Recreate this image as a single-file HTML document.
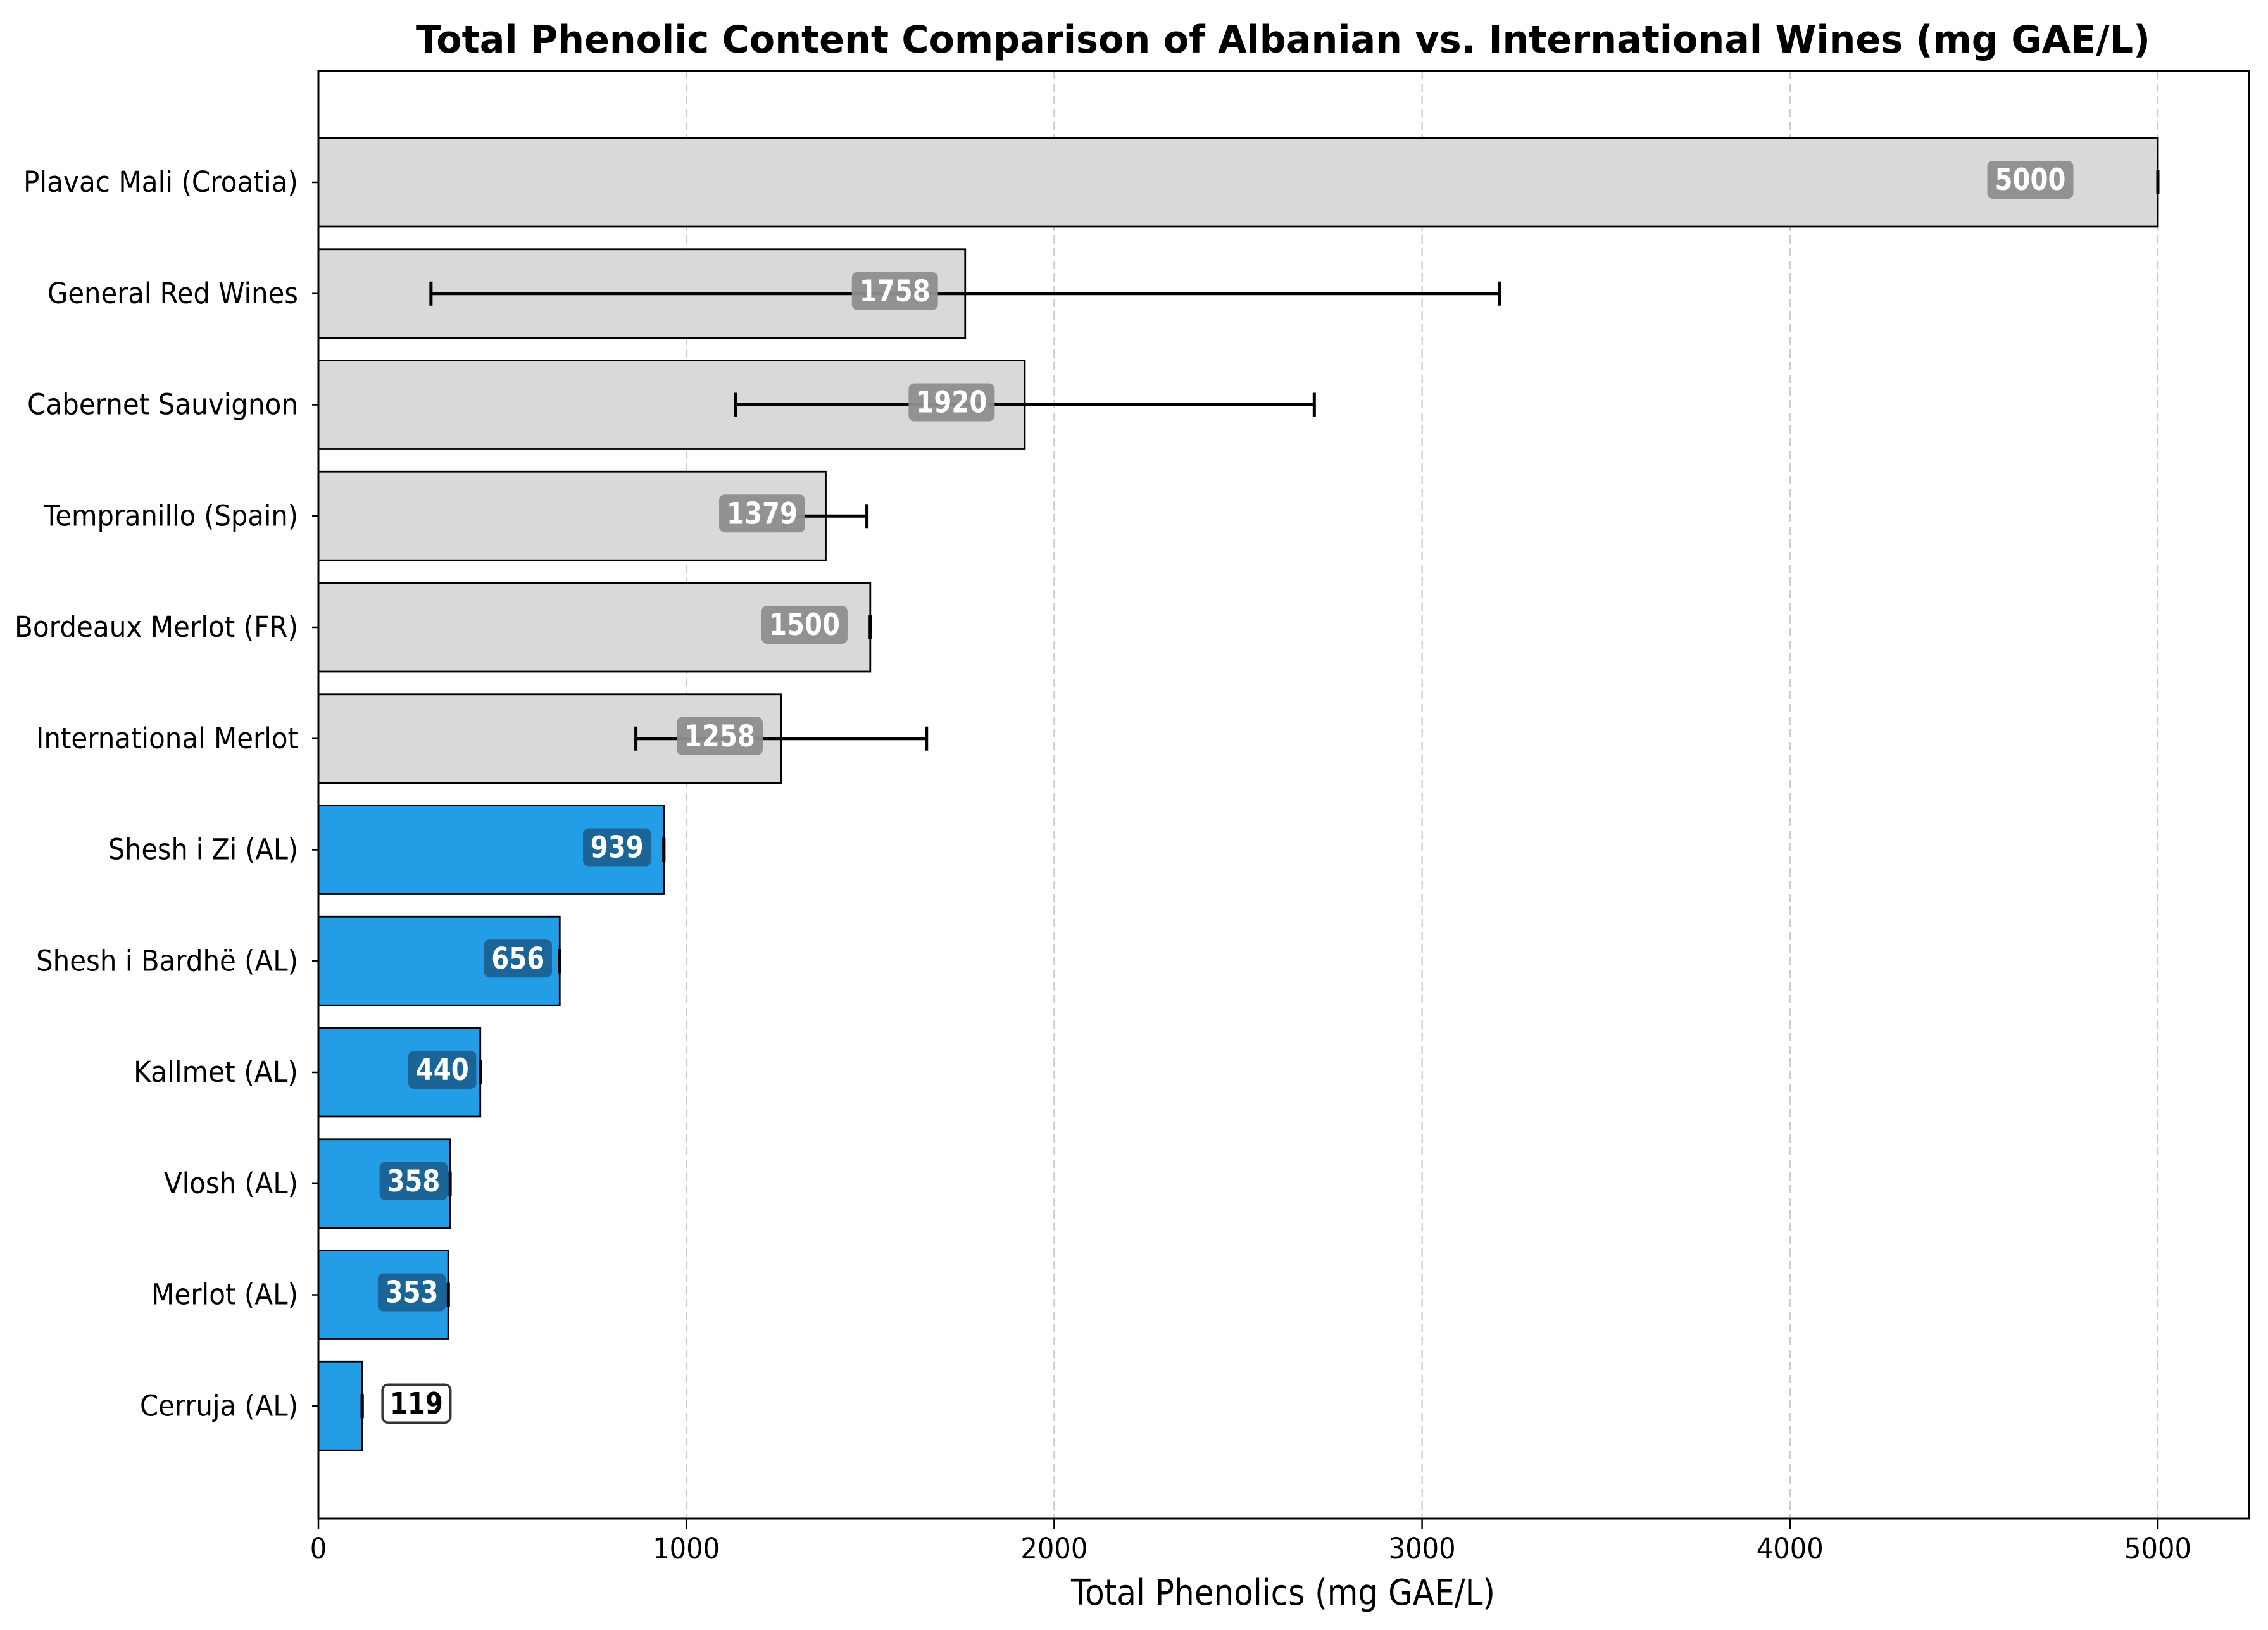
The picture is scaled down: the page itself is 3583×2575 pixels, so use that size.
<!DOCTYPE html>
<html><head><meta charset="utf-8"><style>
html,body{margin:0;padding:0;background:#fff;width:3583px;height:2575px;overflow:hidden}
text{font-family:"DejaVu Sans","Liberation Sans",sans-serif}
</style></head><body>
<svg id="chart" width="3583" height="2575" viewBox="0 0 3583 2575" xmlns="http://www.w3.org/2000/svg"></svg>
<script>
const categories = ["Plavac Mali (Croatia)","General Red Wines","Cabernet Sauvignon","Tempranillo (Spain)","Bordeaux Merlot (FR)","International Merlot","Shesh i Zi (AL)","Shesh i Bardhë (AL)","Kallmet (AL)","Vlosh (AL)","Merlot (AL)","Cerruja (AL)"];
const values = [5000,1758,1920,1379,1500,1258,939,656,440,358,353,119];
const errors = [0,1452,787,112,0,395,0,0,0,0,0,0];
const albanian = [false,false,false,false,false,false,true,true,true,true,true,true];
const xTicks = [0,1000,2000,3000,4000,5000];
const tickLabelWidths = [434,396,428,402,448,414,300,414,260,212,232,250];

const svg = document.getElementById('chart');
const NS = 'http://www.w3.org/2000/svg';
const L=503, R=3553, T=112, B=2399;
const X0=503, PX=581.2/1000;
const xs = v => X0 + v*PX;
const ys = i => 288 + i*175.75;
const BH = 140;
function mk(tag, attrs, parent){ const e=document.createElementNS(NS,tag); for(const k in attrs) e.setAttribute(k,attrs[k]); (parent||svg).appendChild(e); return e; }

xTicks.forEach(t=>{
  const g=mk('line',{x1:xs(t),x2:xs(t),y1:T,y2:B,stroke:'#cccccc','stroke-width':2.3,'stroke-dasharray':'13,7'});
  
  
});

categories.forEach((c,i)=>{
  const r=mk('rect',{x:xs(0),y:ys(i)-BH/2,width:xs(values[i])-xs(0),height:BH,fill:albanian[i]?'#239de6':'#d9d9d9',stroke:'#000','stroke-width':2.8});
  
  
});

categories.forEach((c,i)=>{
  const lo=xs(values[i]-errors[i]), hi=xs(values[i]+errors[i]), y=ys(i);
  const g=mk('g',{stroke:'#000','stroke-width':5});
  
  
  mk('line',{x1:lo,x2:hi,y1:y,y2:y},g);
  mk('line',{x1:lo,x2:lo,y1:y-19,y2:y+19},g);
  mk('line',{x1:hi,x2:hi,y1:y-19,y2:y+19},g);
});

categories.forEach((c,i)=>{
  const v=values[i], y=ys(i)-4, txt=String(v), w=txt.length*28.5+22, h=60;
  const outside = xs(v)-xs(0) < 200;
  let right = outside ? xs(v)+32+w : xs(v*0.952)+6;
  const g=mk('g',{});
  
  
  const fill = outside ? '#ffffff' : (albanian[i] ? '#1b6193' : '#8e8e8e');
  mk('rect',{x:right-w,y:y-h/2,width:w,height:h,rx:9,fill:fill,stroke:outside?'#333':'none','stroke-width':3.5,opacity:outside?1:0.95},g);
  const t=mk('text',{x:right-w/2,y:y+16,'text-anchor':'middle','font-size':47,'font-weight':'bold',fill:outside?'#000':'#fff',textLength:txt.length*28,lengthAdjust:'spacingAndGlyphs'},g);
  t.textContent=txt;
});

const fr=mk('rect',{x:L,y:T,width:R-L,height:B-T,fill:'none',stroke:'#000','stroke-width':3});



categories.forEach((c,i)=>{
  const tk=mk('line',{x1:L-10,x2:L,y1:ys(i),y2:ys(i),stroke:'#000','stroke-width':2.5});
  
  
  const t=mk('text',{x:L-32,y:ys(i)+15,'text-anchor':'end','font-size':45,fill:'#000',textLength:tickLabelWidths[i],lengthAdjust:'spacingAndGlyphs'});
  t.textContent=c;
  
  
});

xTicks.forEach(v=>{
  const tk=mk('line',{x1:xs(v),x2:xs(v),y1:B,y2:B+16,stroke:'#000','stroke-width':2.5});
  
  
  const t=mk('text',{x:xs(v),y:2462,'text-anchor':'middle','font-size':45,fill:'#000',textLength:String(v).length*26.5,lengthAdjust:'spacingAndGlyphs'});
  t.textContent=String(v);
  
  
});

const xt=mk('text',{x:2027,y:2535,'text-anchor':'middle','font-size':56,fill:'#000',textLength:670,lengthAdjust:'spacingAndGlyphs'});
xt.textContent='Total Phenolics (mg GAE/L)';



const tt=mk('text',{x:2027,y:83,'text-anchor':'middle','font-size':60,'font-weight':'bold',fill:'#000',textLength:2740,lengthAdjust:'spacingAndGlyphs'});
tt.textContent='Total Phenolic Content Comparison of Albanian vs. International Wines (mg GAE/L)';


</script>
</body></html>
